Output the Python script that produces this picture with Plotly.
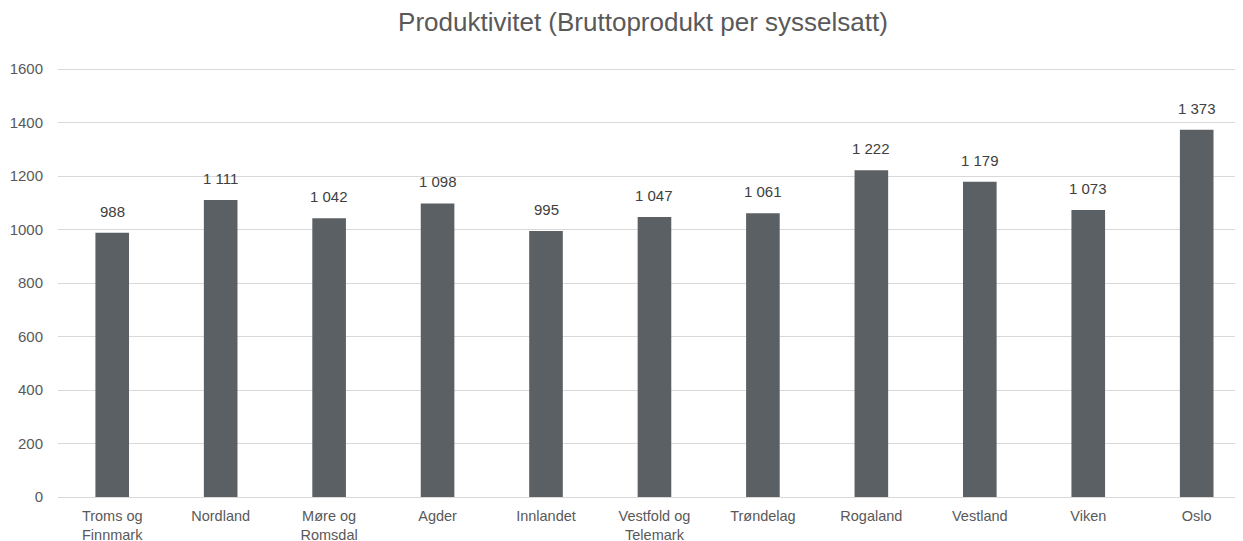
import plotly.graph_objects as go

categories = ["Troms og<br>Finnmark", "Nordland", "Møre og<br>Romsdal", "Agder", "Innlandet",
              "Vestfold og<br>Telemark", "Trøndelag", "Rogaland", "Vestland", "Viken", "Oslo"]
values = [988, 1111, 1042, 1098, 995, 1047, 1061, 1222, 1179, 1073, 1373]
y_ticks = [0, 200, 400, 600, 800, 1000, 1200, 1400, 1600]
title_text = "Produktivitet (Bruttoprodukt per sysselsatt)"

BAR = "#5b6064"
TXT = "#595959"
GRID = "#d9d9d9"
FONT = "Arial, Liberation Sans, sans-serif"

# page body has an 8px default margin, so the figure is sized to fill the rest of the window
W, H = 1235, 533

def fmt(v):
    return f"{v:,}".replace(",", " ")

fig = go.Figure()
fig.add_trace(go.Bar(
    x=list(range(len(categories))), y=values, width=0.31,
    marker=dict(color=BAR, line=dict(width=0)),
    hoverinfo="skip",
))

annotations = [
    dict(x=i, y=v, text=fmt(v), showarrow=False, xref="x", yref="y",
         yanchor="bottom", yshift=11, font=dict(family=FONT, size=15, color="#404040"))
    for i, v in enumerate(values)
]

fig.update_layout(
    width=W, height=H,
    margin=dict(l=50, r=0, t=59, b=44, autoexpand=False),
    paper_bgcolor="white", plot_bgcolor="white",
    showlegend=False,
    font=dict(family=FONT, size=15, color=TXT),
    title=dict(text=title_text, x=635 / W, xanchor="center", y=1 - 14 / H, yanchor="middle",
               xref="container", yref="container",
               font=dict(family=FONT, size=26, color=TXT)),
    annotations=annotations,
    xaxis=dict(
        tickmode="array", tickvals=list(range(len(categories))), ticktext=categories,
        range=[-0.5, 10.427], showgrid=False, zeroline=False, automargin=False,
        showline=False, ticks="outside", ticklen=6, tickcolor="rgba(0,0,0,0)",
        tickfont=dict(family=FONT, size=14.5, color=TXT), fixedrange=True,
    ),
    yaxis=dict(
        range=[0, 1608], tickvals=y_ticks, tickformat="d", automargin=False,
        showgrid=True, gridcolor=GRID, gridwidth=1,
        zeroline=True, zerolinecolor=GRID, zerolinewidth=1,
        showline=False, ticks="outside", ticklen=11, tickcolor="rgba(0,0,0,0)",
        tickfont=dict(family=FONT, size=15, color=TXT), fixedrange=True,
    ),
)

fig.write_html("out.html")
